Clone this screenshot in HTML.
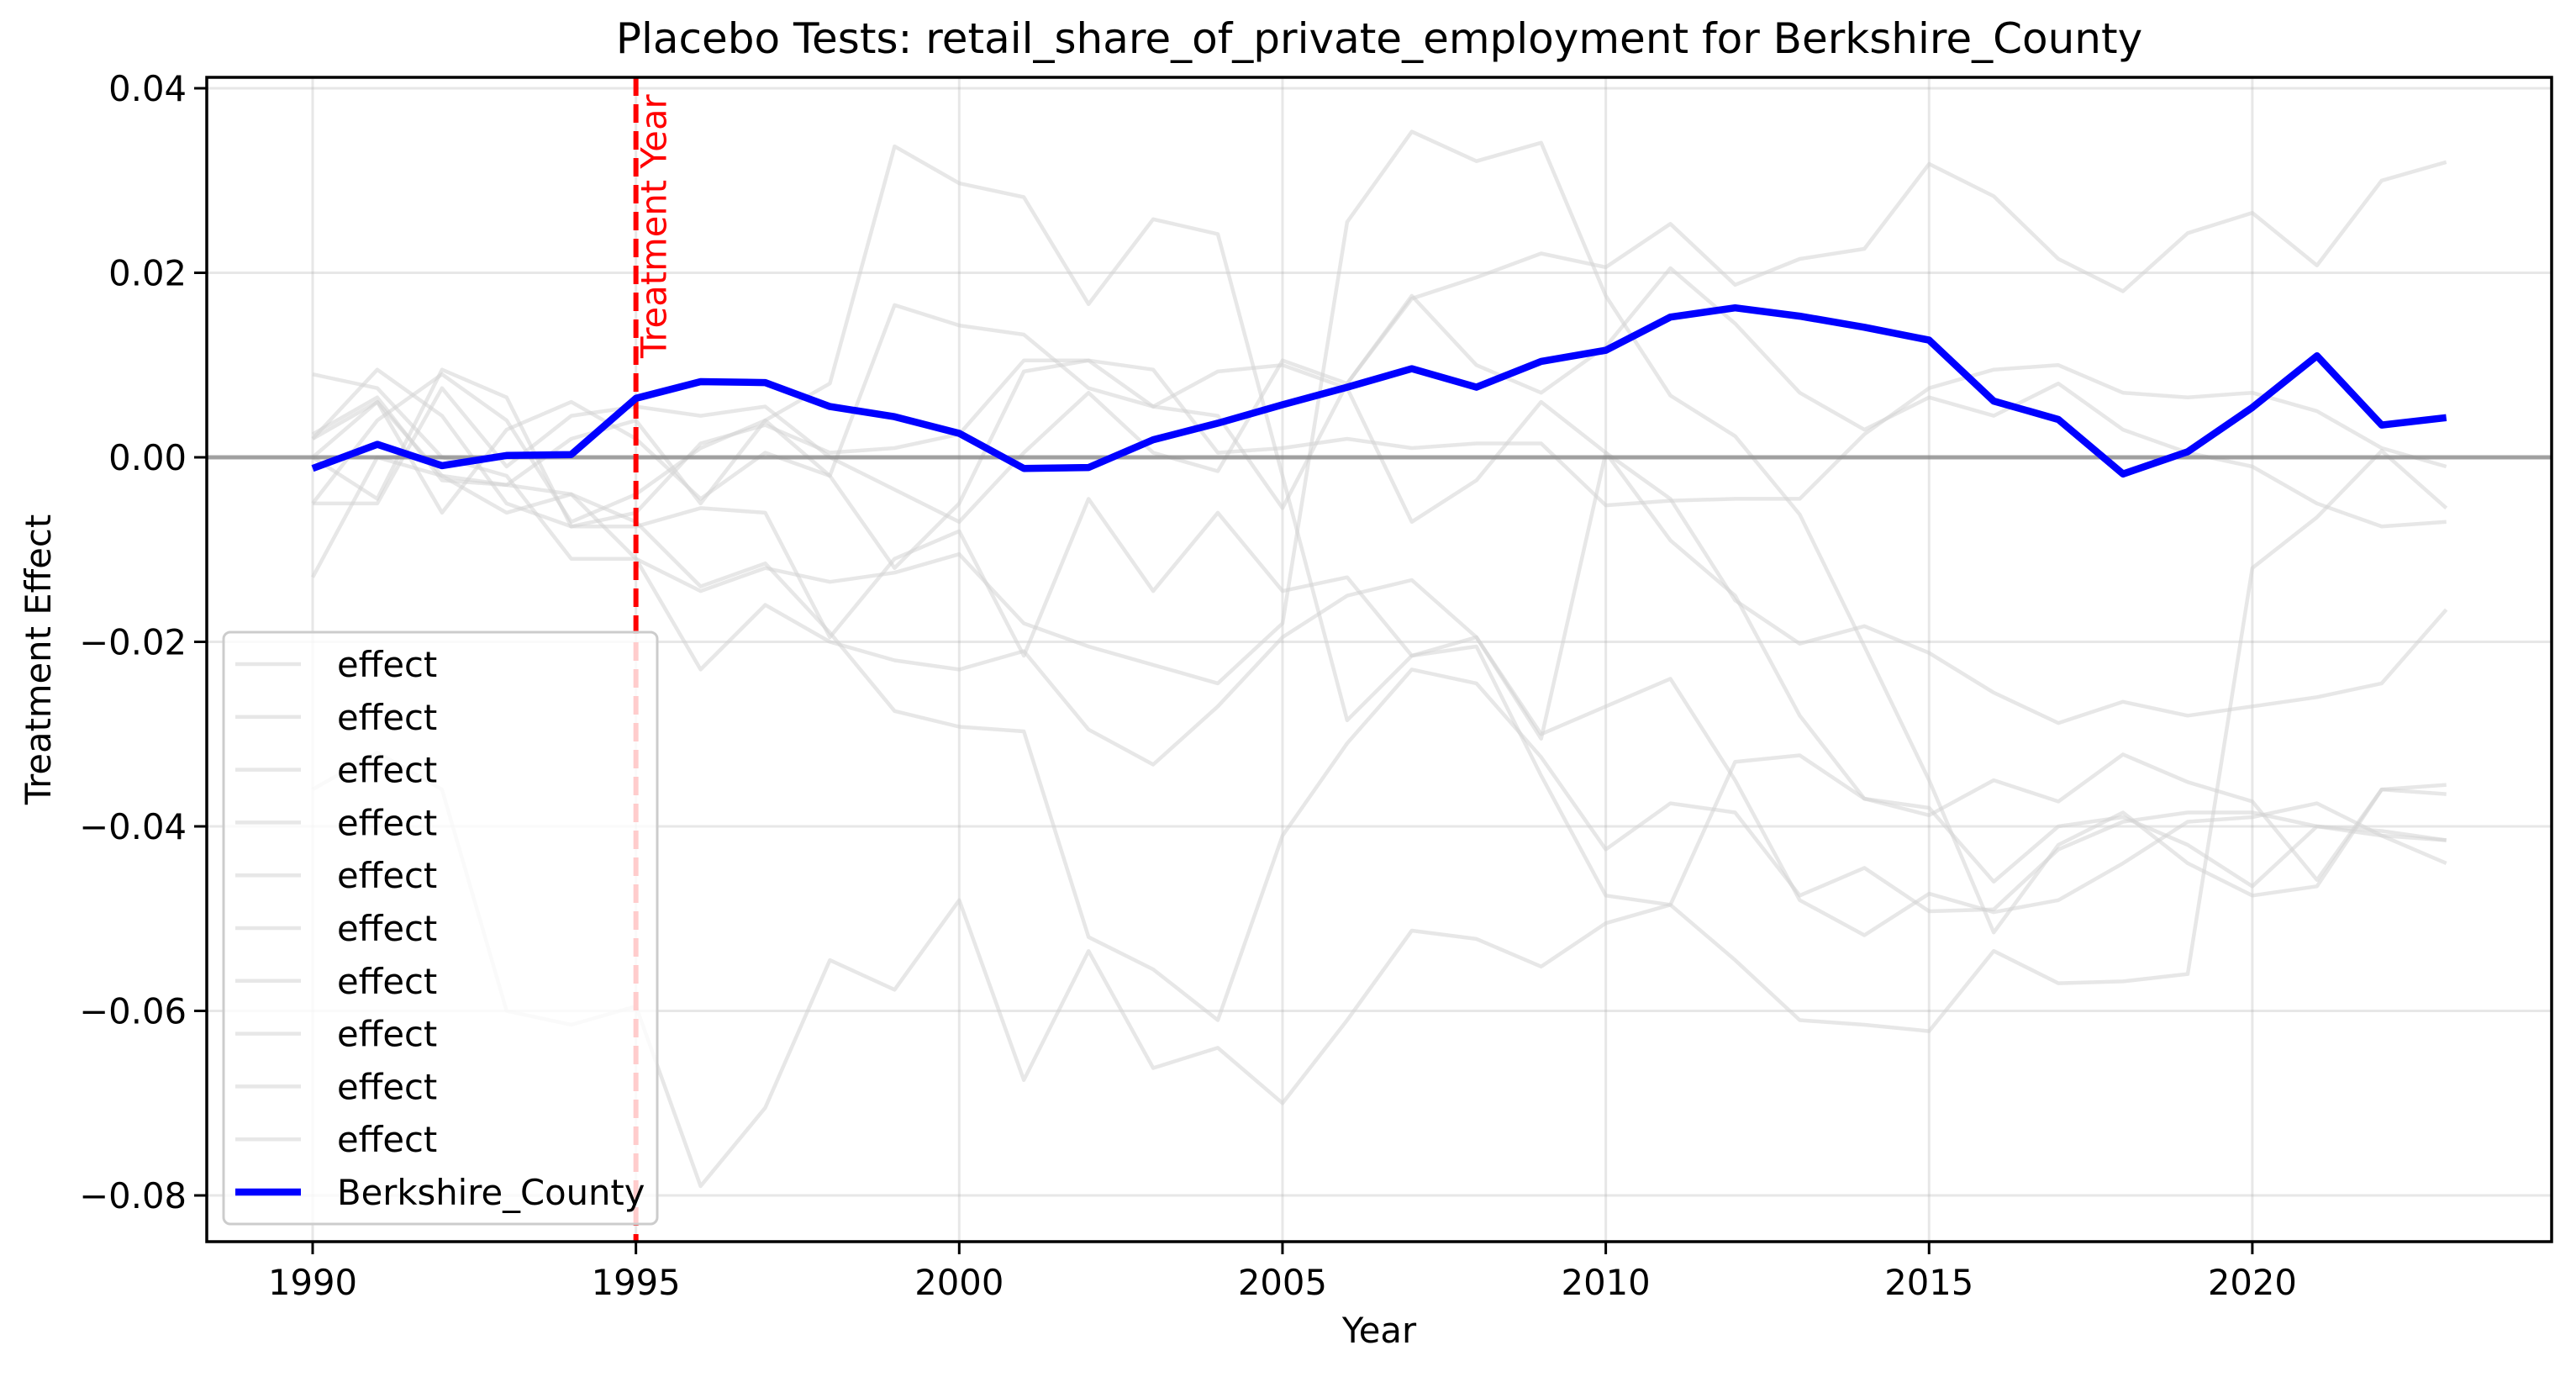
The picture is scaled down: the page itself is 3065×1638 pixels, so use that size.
<!DOCTYPE html>
<html><head><meta charset="utf-8">
<style>
html,body{margin:0;padding:0;background:#fff;}
svg{display:block;font-family:"DejaVu Sans","Liberation Sans",sans-serif;}
</style></head>
<body>
<svg id="chart" width="3065" height="1638" viewBox="0 0 3065 1638" xmlns="http://www.w3.org/2000/svg">
<rect x="0" y="0" width="3065" height="1638" fill="#fff"/>
<g id="grid"></g>
<g id="series"></g>
<g id="axes"></g>
<g id="legend"></g>
</svg>
<script>
const years = [];
for (let y = 1990; y <= 2023; y++) years.push(y);
const xTicks = [1990, 1995, 2000, 2005, 2010, 2015, 2020];
const yTicks = [0.04, 0.02, 0.00, -0.02, -0.04, -0.06, -0.08];
const yTickLabels = ["0.04", "0.02", "0.00", "\u22120.02", "\u22120.04", "\u22120.06", "\u22120.08"];
const treatmentYear = 1995;
const berkshire = [-0.0012,0.0014,-0.0009,0.0002,0.0003,0.0064,0.0082,0.0081,0.0055,0.0044,0.0026,-0.0012,-0.0011,0.0019,0.0037,0.0057,0.0076,0.0096,0.0076,0.0104,0.0116,0.0152,0.0162,0.0153,0.0141,0.0127,0.0061,0.0041,-0.0018,0.0006,0.0054,0.0110,0.0035,0.0043];
const placebo1 = [0.002,0.006,-0.002,-0.003,0.002,0.004,-0.005,0.004,0.008,0.0337,0.0297,0.0282,0.0166,0.0258,0.0242,-0.002,-0.0285,-0.0215,-0.0205,-0.0345,-0.0475,-0.0485,-0.033,-0.0323,-0.037,-0.0388,-0.035,-0.0373,-0.0322,-0.0352,-0.0373,-0.0458,-0.036,-0.0355];
const placebo2 = [-0.005,0.004,0.009,0.004,-0.007,-0.004,0.001,0.004,-0.002,-0.012,-0.005,0.0093,0.0105,0.0055,0.0045,-0.0055,0.008,0.0172,0.0195,0.0221,0.0206,0.0253,0.0187,0.0215,0.0226,0.0318,0.0283,0.0215,0.018,0.0243,0.0265,0.0208,0.030,0.032];
const placebo3 = [0.0025,0.0065,-0.0025,-0.003,-0.004,-0.011,-0.0145,-0.012,-0.0135,-0.0125,-0.0105,-0.018,-0.0205,-0.0225,-0.0245,-0.018,0.0255,0.0353,0.0321,0.0341,0.0175,0.0067,0.0023,-0.0062,-0.0205,-0.035,-0.0515,-0.042,-0.0385,-0.044,-0.0475,-0.0465,-0.036,-0.0365];
const placebo4 = [-0.036,-0.032,-0.036,-0.060,-0.0615,-0.0595,-0.079,-0.0705,-0.0545,-0.0577,-0.048,-0.0675,-0.0535,-0.0662,-0.064,-0.070,-0.061,-0.0513,-0.0522,-0.0552,-0.0505,-0.0485,-0.0545,-0.061,-0.0615,-0.0622,-0.0535,-0.057,-0.0568,-0.056,-0.012,-0.0065,0.0007,-0.0055];
const placebo5 = [-0.013,0.0,-0.002,-0.006,-0.004,-0.007,-0.014,-0.0115,-0.019,-0.0275,-0.0292,-0.0297,-0.052,-0.0555,-0.061,-0.041,-0.031,-0.023,-0.0245,-0.0325,-0.0425,-0.0375,-0.0385,-0.0475,-0.0445,-0.0492,-0.049,-0.0425,-0.0395,-0.0385,-0.0385,-0.040,-0.041,-0.0415];
const placebo6 = [0.009,0.0075,0.0,-0.002,-0.011,-0.011,-0.023,-0.016,-0.020,-0.022,-0.023,-0.021,-0.0295,-0.0333,-0.027,-0.0195,-0.015,-0.0133,-0.0195,-0.030,-0.027,-0.024,-0.035,-0.048,-0.0518,-0.0473,-0.0493,-0.048,-0.044,-0.0395,-0.039,-0.0375,-0.041,-0.044];
const placebo7 = [0.002,0.0095,0.0045,-0.005,-0.0075,-0.0075,-0.0055,-0.006,-0.0195,-0.011,-0.008,-0.0215,-0.0045,-0.0145,-0.006,-0.0145,-0.013,-0.0215,-0.0195,-0.0305,0.0005,-0.0045,-0.0155,-0.0202,-0.0183,-0.0212,-0.0255,-0.0288,-0.0265,-0.028,-0.027,-0.026,-0.0245,-0.0165];
const placebo8 = [0.0,-0.0045,0.0095,0.0065,-0.0075,-0.006,0.0015,0.0035,0.0005,0.001,0.0025,0.0105,0.0105,0.0095,0.0005,0.001,0.002,0.001,0.0015,0.0015,-0.0052,-0.0047,-0.0045,-0.0045,0.0025,0.0075,0.0095,0.010,0.007,0.0065,0.007,0.005,0.001,-0.001];
const placebo9 = [-0.005,-0.005,0.0075,-0.001,0.0045,0.0055,0.0045,0.0055,0.0,-0.0035,-0.007,0.0005,0.007,0.0005,-0.0015,0.0105,0.008,0.0175,0.010,0.007,0.012,0.0205,0.0145,0.007,0.003,0.0065,0.0045,0.008,0.003,0.0005,-0.001,-0.005,-0.0075,-0.007];
const placebo10 = [0.0,0.006,-0.006,0.003,0.006,0.002,-0.0045,0.0005,-0.002,0.0165,0.0143,0.0133,0.0075,0.0055,0.0093,0.010,0.0075,-0.007,-0.0025,0.006,0.0005,-0.009,-0.015,-0.028,-0.037,-0.038,-0.046,-0.040,-0.039,-0.042,-0.0465,-0.040,-0.0405,-0.0415];
const placeboSeries = [placebo1,placebo2,placebo3,placebo4,placebo5,placebo6,placebo7,placebo8,placebo9,placebo10];

const NS = "http://www.w3.org/2000/svg";
const L = 246, R = 3036, T = 92, B = 1477;
function xs(yr){ return 372 + (yr - 1990) * 76.93; }
function ys(v){ return 544 - v * 10975; }
function mk(tag, attrs, parent){
  const e = document.createElementNS(NS, tag);
  for (const k in attrs) e.setAttribute(k, attrs[k]);
  parent.appendChild(e); return e;
}
const grid = document.getElementById('grid');
const series = document.getElementById('series');
const axes = document.getElementById('axes');
const legend = document.getElementById('legend');

xTicks.forEach(t => {
  const g = mk('line', {x1: xs(t), x2: xs(t), y1: T, y2: B, stroke: '#b0b0b0', 'stroke-opacity': 0.3, 'stroke-width': 3}, grid);
  
  
});
yTicks.forEach(t => {
  const g = mk('line', {x1: L, x2: R, y1: ys(t), y2: ys(t), stroke: '#b0b0b0', 'stroke-opacity': 0.3, 'stroke-width': 3}, grid);
  
  
});

placeboSeries.forEach((s, i) => {
  const pts = s.map((v, j) => xs(years[j]).toFixed(1) + ',' + ys(v).toFixed(1)).join(' ');
  const p = mk('polyline', {points: pts, fill: 'none', stroke: '#d3d3d3', 'stroke-opacity': 0.55, 'stroke-width': 4.5, 'stroke-linejoin': 'round'}, series);
  
  
});
const zl = mk('line', {x1: L, x2: R, y1: ys(0), y2: ys(0), stroke: '#808080', 'stroke-opacity': 0.7, 'stroke-width': 5}, series);


const tl = mk('line', {x1: xs(treatmentYear), x2: xs(treatmentYear), y1: T, y2: B, stroke: '#ff0000', 'stroke-width': 6, 'stroke-dasharray': '22,10'}, series);


const bpts = berkshire.map((v, j) => xs(years[j]).toFixed(1) + ',' + ys(v).toFixed(1)).join(' ');
const bl = mk('polyline', {points: bpts, fill: 'none', stroke: '#0000ff', 'stroke-width': 8.5, 'stroke-linejoin': 'round'}, series);


const tt = mk('text', {x: 0, y: 0, transform: 'translate(' + (xs(treatmentYear) + 36) + ',426) rotate(-90)', 'font-size': 41.7, fill: '#ff0000'}, series);
tt.textContent = 'Treatment Year';



const frame = mk('rect', {x: L, y: T, width: R - L, height: B - T, fill: 'none', stroke: '#000', 'stroke-width': 3.5}, axes);


xTicks.forEach(t => {
  const tk = mk('line', {x1: xs(t), x2: xs(t), y1: B, y2: B + 15, stroke: '#000', 'stroke-width': 3}, axes);
  
  
  const lb = mk('text', {x: xs(t), y: B + 63, 'font-size': 41.7, 'text-anchor': 'middle', fill: '#000'}, axes);
  lb.textContent = String(t);
  
  
});
yTicks.forEach((t, i) => {
  const tk = mk('line', {x1: L - 15, x2: L, y1: ys(t), y2: ys(t), stroke: '#000', 'stroke-width': 3}, axes);
  
  
  const lb = mk('text', {x: L - 24, y: ys(t) + 15, 'font-size': 41.7, 'text-anchor': 'end', fill: '#000'}, axes);
  lb.textContent = yTickLabels[i];
  
  
});
const xt = mk('text', {x: (L + R) / 2, y: 1597, 'font-size': 41.7, 'text-anchor': 'middle', fill: '#000'}, axes);
xt.textContent = 'Year';


const yt = mk('text', {x: 0, y: 0, transform: 'translate(60,' + ((T + B) / 2) + ') rotate(-90)', 'font-size': 41.7, 'text-anchor': 'middle', fill: '#000'}, axes);
yt.textContent = 'Treatment Effect';


const ti = mk('text', {x: (L + R) / 2, y: 63, 'font-size': 50, 'text-anchor': 'middle', fill: '#000'}, axes);
ti.textContent = 'Placebo Tests: retail_share_of_private_employment for Berkshire_County';



const lbox = mk('rect', {x: 266, y: 752, width: 516, height: 704, rx: 8, fill: '#fff', 'fill-opacity': 0.8, stroke: '#cccccc', 'stroke-width': 3}, legend);


for (let i = 0; i < 11; i++) {
  const cy = 790 + i * 62.8;
  const isB = i === 10;
  const ln = mk('line', {x1: 280, x2: 358, y1: cy, y2: cy, stroke: isB ? '#0000ff' : '#d3d3d3', 'stroke-opacity': isB ? 1 : 0.55, 'stroke-width': isB ? 8.5 : 4.5}, legend);
  
  
  const tx = mk('text', {x: 401, y: cy + 15, 'font-size': 41.7, fill: '#000'}, legend);
  tx.textContent = isB ? 'Berkshire_County' : 'effect';
  
  
}
</script>
</body></html>
